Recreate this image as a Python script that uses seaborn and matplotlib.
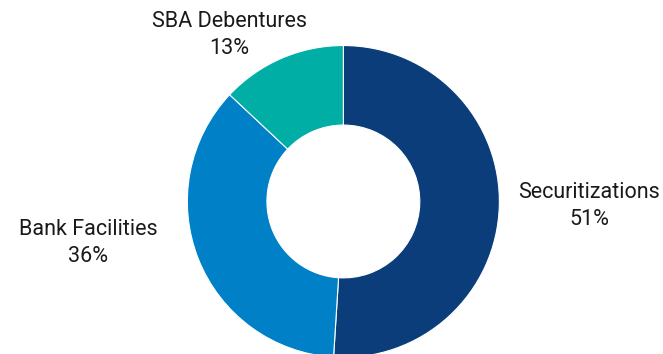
import matplotlib
matplotlib.use("Agg")
import matplotlib.pyplot as plt
import seaborn as sns

categories = ["Securitizations", "Bank Facilities", "SBA Debentures"]
values = [51, 36, 13]
pct_labels = ["51%", "36%", "13%"]
colors = ["#0b3d7b", "#0080c6", "#00aea5"]

sns.set_theme(style="white")
plt.rcParams["font.family"] = ["Roboto", "DejaVu Sans"]

fig = plt.figure(figsize=(6.63, 3.54), dpi=100)
ax = fig.add_axes([0, 0, 1, 1])
wedges, _ = ax.pie(values, colors=colors, startangle=90, counterclock=False,
                   radius=1.0, wedgeprops=dict(width=0.51, edgecolor="white", linewidth=0.8))
ax.set_aspect("auto")
ax.set_xlim(-2.201, 2.049)
ax.set_ylim(-0.978, 1.292)
ax.axis("off")

label_pos = [(1.575, -0.029), (-1.637, -0.266), (-0.733, 1.067)]
for (x, y), cat, p in zip(label_pos, categories, pct_labels):
    ax.text(x, y, f"{cat}\n{p}", ha="center", va="center", fontsize=15.5,
            color="#1a1a1a", linespacing=1.35)

fig.savefig("out.png", dpi=100)
